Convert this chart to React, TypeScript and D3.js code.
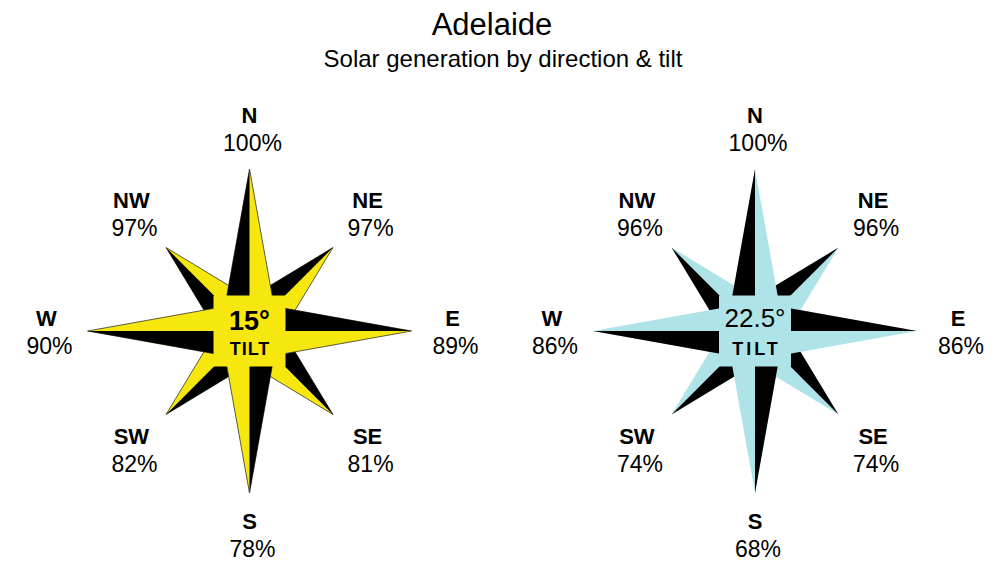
import * as d3 from 'd3'
import { useEffect, useRef } from 'react'

// directions clockwise from north
const directions = ['N', 'NE', 'E', 'SE', 'S', 'SW', 'W', 'NW']
// relative generation (%) per direction
const tilt15Values = [100, 97, 89, 81, 78, 82, 90, 97]
const tilt225Values = [100, 96, 86, 74, 68, 74, 86, 96]
const tiltLabels = ['15°', '22.5°']

const title = 'Adelaide'
const subtitle = 'Solar generation by direction & tilt'

const width = 1000
const height = 584
const font = "'Liberation Sans', Arial, sans-serif"

interface Rose {
  cx: number
  cy: number
  fill: string
  stroke: string
  values: number[]
  tilt: string
  tiltBold: boolean
  tiltSpacing: number
}

export default function App() {
  const svgRef = useRef(null)

  useEffect(() => {
    document.body.style.margin = '0'
    const svg = d3.select(svgRef.current)
    svg.selectAll('*').remove()

    svg.append('rect').attr('width', width).attr('height', height).attr('fill', '#fff')

    // titles
    svg.append('text')
      .attr('x', 492).attr('y', 35)
      .attr('text-anchor', 'middle')
      .style('font-family', font).style('font-size', '31px')
      .text(title)
    svg.append('text')
      .attr('x', 503).attr('y', 67)
      .attr('text-anchor', 'middle')
      .style('font-family', font).style('font-size', '24px')
      .text(subtitle)

    const roses: Rose[] = [
      { cx: 249.5, cy: 331, fill: '#f6e70e', stroke: '#333', values: tilt15Values, tilt: tiltLabels[0], tiltBold: true, tiltSpacing: 1 },
      { cx: 755, cy: 331, fill: '#aee3e8', stroke: 'none', values: tilt225Values, tilt: tiltLabels[1], tiltBold: false, tiltSpacing: 3 },
    ]

    const angle = d3.scaleLinear().domain([0, directions.length]).range([0, 2 * Math.PI])
    const armLength = (i: number) => (i % 2 === 0 ? 162 : 118)
    const labelRadius = (i: number) => (i % 2 === 0 ? 203 : 167)
    const halfWidth = 29
    const line = d3.line()

    roses.forEach(rose => {
      const g = svg.append('g')
      const pt = (a: number, r: number): [number, number] =>
        [rose.cx + r * Math.sin(a), rose.cy - r * Math.cos(a)]

      // diagonal arms first, cardinal arms on top
      const order = d3.range(directions.length).sort((a, b) => (b % 2) - (a % 2))
      order.forEach(i => {
        const a = angle(i)
        const tip = pt(a, armLength(i))
        const cw = pt(a + Math.PI / 2, halfWidth)
        const ccw = pt(a - Math.PI / 2, halfWidth)
        const c: [number, number] = [rose.cx, rose.cy]

        g.append('path')
          .attr('d', line([tip, cw, ccw]) + 'Z')
          .attr('fill', rose.fill)
          .attr('stroke', rose.stroke)
          .attr('stroke-width', 0.8)
          .attr('stroke-linejoin', 'round')
        g.append('path')
          .attr('d', line([tip, c, ccw]) + 'Z')
          .attr('fill', '#000')
      })

      // centre square
      const sq = 72
      g.append('rect')
        .attr('x', rose.cx - sq / 2).attr('y', rose.cy - sq / 2 + 0.5)
        .attr('width', sq).attr('height', sq - 1)
        .attr('fill', rose.fill)

      g.append('text')
        .attr('x', rose.cx).attr('y', rose.cy + (rose.tiltBold ? -1 : -4))
        .attr('text-anchor', 'middle')
        .style('font-family', font)
        .style('font-size', rose.tiltBold ? '27px' : '26px')
        .style('font-weight', rose.tiltBold ? 'bold' : 'normal')
        .text(rose.tilt)
      g.append('text')
        .attr('x', rose.cx + rose.tiltSpacing / 2).attr('y', rose.cy + 24)
        .attr('text-anchor', 'middle')
        .style('font-family', font)
        .style('font-size', '18px')
        .style('font-weight', 'bold')
        .style('letter-spacing', `${rose.tiltSpacing}px`)
        .text('TILT')

      // direction labels
      directions.forEach((dir, i) => {
        const [x, y] = pt(angle(i), labelRadius(i))
        g.append('text')
          .attr('x', x).attr('y', y - 5)
          .attr('text-anchor', 'middle')
          .style('font-family', font).style('font-size', '22px').style('font-weight', 'bold')
          .text(dir)
        g.append('text')
          .attr('x', x + 3).attr('y', y + 23)
          .attr('text-anchor', 'middle')
          .style('font-family', font).style('font-size', '23px')
          .text(`${rose.values[i]}%`)
      })
    })
  }, [svgRef])

  return (
    <div>
      <svg ref={svgRef} width={width} height={height} style={{ display: 'block' }}></svg>
    </div>
  )
}
